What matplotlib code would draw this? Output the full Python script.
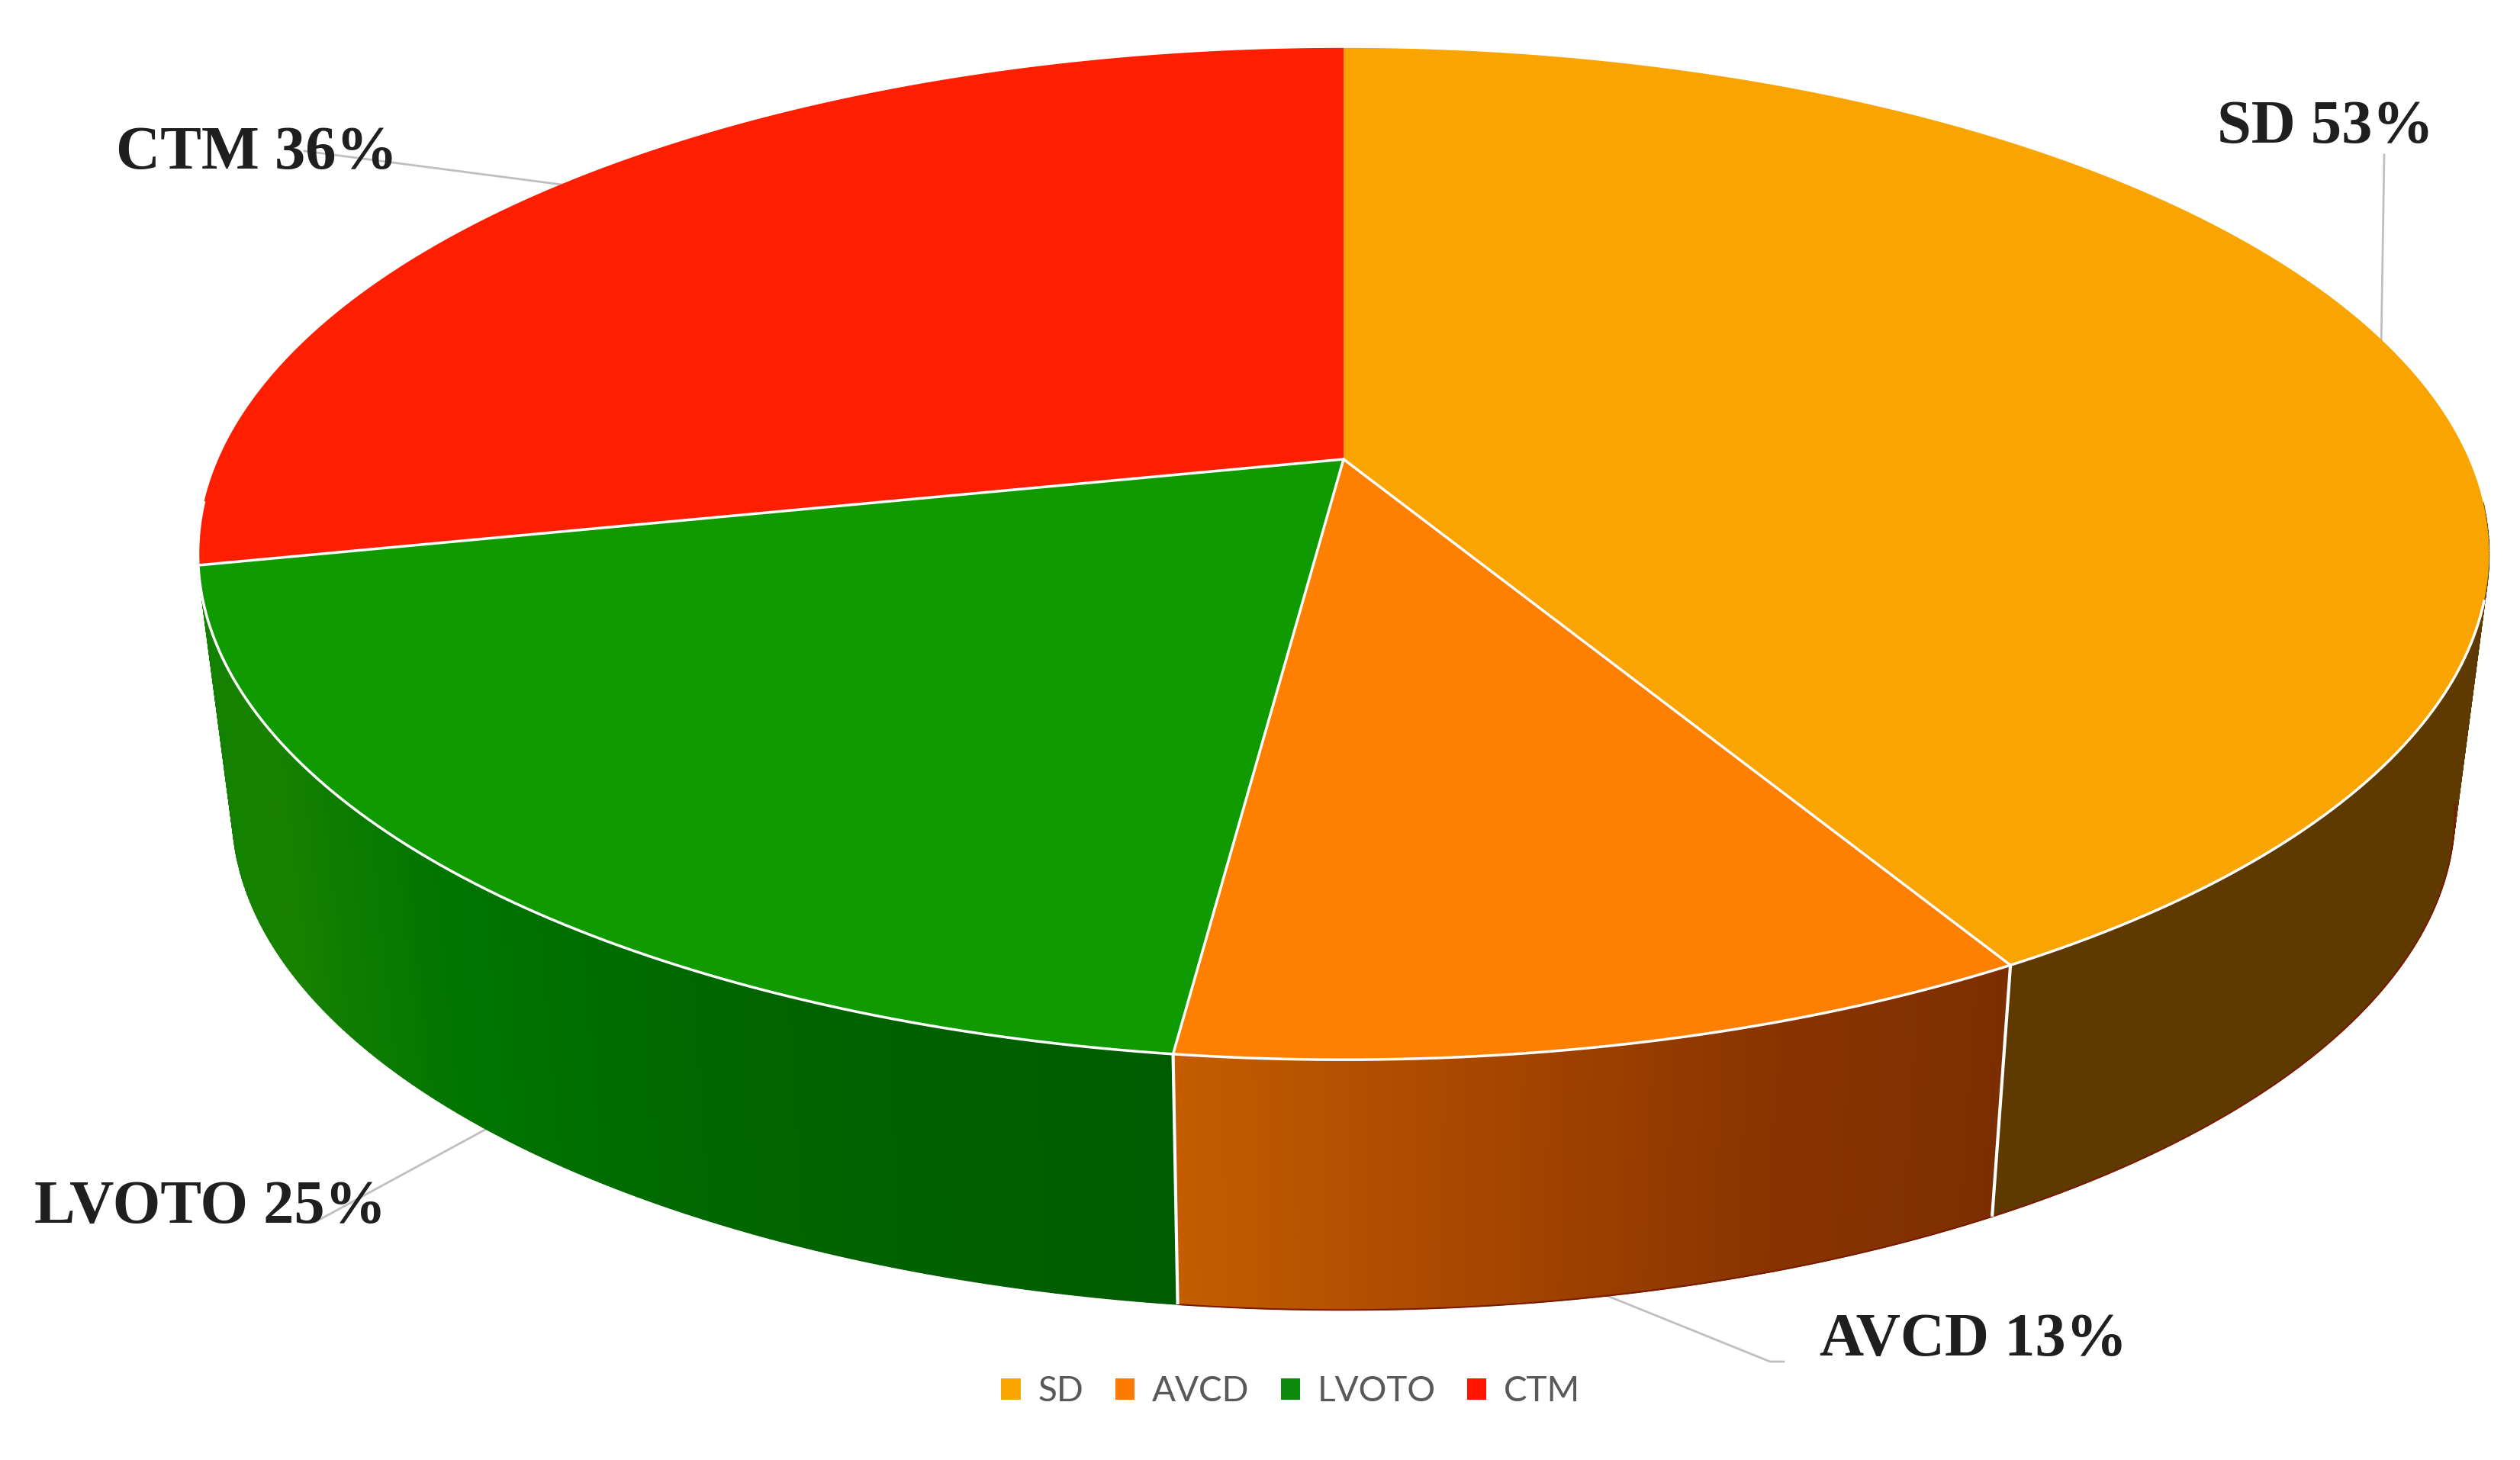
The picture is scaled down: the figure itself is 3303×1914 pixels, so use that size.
import numpy as np
import matplotlib
matplotlib.use("Agg")
import matplotlib.pyplot as plt
from matplotlib.collections import PolyCollection
from matplotlib.colors import LinearSegmentedColormap
from matplotlib.patches import Patch

categories = ["SD", "AVCD", "LVOTO", "CTM"]
values = [53, 13, 25, 36]

top_colors = ["#F9A400", "#FF7F00", "#0F9B00", "#FF1E00"]
legend_colors = ["#FBA500", "#FF7A00", "#0B8A0B", "#FF1500"]
# side shading, going clockwise through each slice
side_colors = [["#5F3A00", "#5F3A00"],
               ["#7D2E00", "#8A3500", "#A84700", "#C45C00"],
               ["#005C00", "#006400", "#007400", "#188200", "#128000"],
               ["#A01500", "#A01500"]]

# label text position, then where the leader line stops
label_pos = [(3048, 168), (2587, 1757), (276, 1584), (337, 202)]
leader_end = [[(3125, 203)], [(2320, 1785), (2338, 1785)], [(413, 1602)], [(399, 198)]]

# perspective of the pie, top disc and bottom disc
cx = 1761
top_y, top_a, top_b, top_k = 602, 1475, 640, 0.187
low_y, low_a, low_b, low_k = 942, 1430, 628, 0.19


def disc(theta, y0, a, b, k):
    t = np.radians(theta)
    X, Y = np.sin(t), np.cos(t)
    d = 1 + k * Y
    return cx + a * X / d, y0 - b * Y / d


def top(theta):
    return disc(theta, top_y, top_a, top_b, top_k)


def low(theta):
    return disc(theta, low_y, low_a, low_b, low_k)


angles = np.concatenate([[0], np.cumsum(values)]) / np.sum(values) * 360
mids = (angles[:-1] + angles[1:]) / 2

fig = plt.figure(figsize=(33.03, 19.14), dpi=100)
ax = fig.add_axes([0, 0, 1, 1])
ax.set_xlim(0, 3303)
ax.set_ylim(1914, 0)
ax.axis("off")

# leader lines first, labels sit over them
for i in range(4):
    anchor = low(mids[i]) if i in (1, 2) else top(mids[i])
    pts = [anchor] + leader_end[i]
    ax.plot([p[0] for p in pts], [p[1] for p in pts], color="#BFBFBF", lw=2, zorder=1)

# side wall, only the part facing us
for i in range(3):
    start = max(angles[i], 95)
    end = min(angles[i + 1], 265)
    th = np.linspace(start, end, 160)
    cmap = LinearSegmentedColormap.from_list("side%d" % i, side_colors[i])
    polys = []
    cols = []
    for j in range(len(th) - 1):
        x1, y1 = top(th[j])
        x2, y2 = top(th[j + 1])
        x3, y3 = low(th[j + 1])
        x4, y4 = low(th[j])
        polys.append([(x1, y1), (x2, y2), (x3, y3), (x4, y4)])
        cols.append(cmap(j / (len(th) - 2)))
    ax.add_collection(PolyCollection(polys, facecolors=cols, edgecolors=cols, linewidths=1, zorder=2))

# thin dark edge under the brown and orange walls
th = np.linspace(angles[0] + 100, angles[2], 200)
th = th[th <= angles[2]]
lx, ly = low(th)
ax.plot(lx, ly, color="#7A1A00", lw=1.5, zorder=3)

# white lines between the side walls
for a in angles[1:3]:
    x1, y1 = top(a)
    x2, y2 = low(a)
    ax.plot([x1, x2], [y1, y2], color="white", lw=3, zorder=3, solid_capstyle="butt")

# top of the pie
for i in range(4):
    th = np.linspace(angles[i], angles[i + 1], 300)
    x, y = top(th)
    ax.fill(np.r_[cx, x], np.r_[top_y, y], color=top_colors[i], lw=0, zorder=4)

# white edges on top
for a in angles[1:4]:
    x, y = top(a)
    ax.plot([cx, x], [top_y, y], color="white", lw=2.5, zorder=5, solid_capstyle="round")
th = np.linspace(106, 265, 400)
x, y = top(th)
ax.plot(x, y, color="white", lw=2.5, zorder=5)

for i in range(4):
    ax.text(label_pos[i][0], label_pos[i][1], "%s %d%%" % (categories[i], values[i]),
            family="Liberation Serif", weight="bold", fontsize=58, color="#1F1F1F",
            ha="center", va="center", zorder=6)

handles = [Patch(facecolor=c, edgecolor="none") for c in legend_colors]
ax.legend(handles, categories, loc="center", bbox_to_anchor=(1692, 1824),
          bbox_transform=ax.transData, ncol=4, frameon=False, handlelength=0.55,
          handleheight=0.55, handletextpad=0.5, columnspacing=0.9,
          prop={"family": "Lato", "size": 33}, labelcolor="#595959")

fig.savefig("out.png", dpi=100)
